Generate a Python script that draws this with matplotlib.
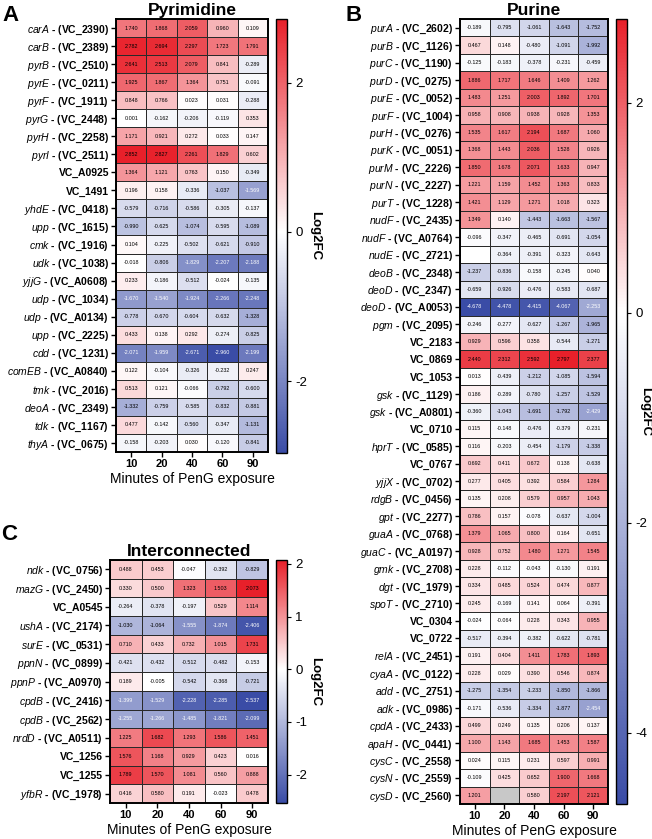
import matplotlib
matplotlib.use("Agg")
import matplotlib.pyplot as plt
import numpy as np
from matplotlib.colors import LinearSegmentedColormap, Normalize, ListedColormap

plt.rcParams['font.family'] = ['Liberation Sans', 'DejaVu Sans']
plt.rcParams['mathtext.fontset'] = 'custom'
plt.rcParams['mathtext.it'] = 'Liberation Sans:italic'
plt.rcParams['mathtext.rm'] = 'Liberation Sans'
plt.rcParams['axes.unicode_minus'] = False

ND = None  # not determined, shown as a blank white cell (grey NaN = missing)
minutes = [10, 20, 40, 60, 90]

# ---- Pyrimidine
genes_A = ["carA", "carB", "pyrB", "pyrE", "pyrF", "pyrG", "pyrH", "pyrI", "", "",
           "yhdE", "upp", "cmk", "udk", "yjjG", "udp", "udp", "upp", "cdd", "comEB",
           "tmk", "deoA", "tdk", "thyA"]
loci_A = ["VC_2390", "VC_2389", "VC_2510", "VC_0211", "VC_1911", "VC_2448", "VC_2258",
          "VC_2511", "VC_A0925", "VC_1491", "VC_0418", "VC_1615", "VC_1916", "VC_1038",
          "VC_A0608", "VC_1034", "VC_A0134", "VC_2225", "VC_1231", "VC_A0840", "VC_2016",
          "VC_2349", "VC_1167", "VC_0675"]
vals_A = [
    [1.740, 1.868, 2.059, 0.960, 0.109],
    [2.782, 2.694, 2.297, 1.723, 1.791],
    [2.641, 2.513, 2.079, 0.841, -0.289],
    [1.925, 1.867, 1.364, 0.751, -0.091],
    [0.848, 0.766, 0.023, 0.031, -0.288],
    [0.001, -0.162, -0.206, -0.119, 0.353],
    [1.171, 0.921, 0.272, 0.033, 0.147],
    [2.852, 2.827, 2.261, 1.829, 0.602],
    [1.364, 1.121, 0.763, 0.150, -0.349],
    [0.196, 0.158, -0.336, -1.037, -1.569],
    [-0.579, -0.716, -0.586, -0.305, -0.137],
    [-0.990, -0.625, -1.074, -0.595, -1.089],
    [0.104, -0.225, -0.502, -0.621, -0.910],
    [-0.018, -0.806, -1.829, -2.207, -2.188],
    [0.233, -0.186, -0.512, -0.024, -0.135],
    [-1.670, -1.540, -1.924, -2.266, -2.248],
    [-0.778, -0.670, -0.604, -0.632, -1.328],
    [0.433, 0.138, 0.292, -0.274, -0.825],
    [-2.071, -1.959, -2.671, -2.960, -2.199],
    [0.122, -0.104, -0.326, -0.232, 0.247],
    [0.513, 0.121, -0.066, -0.792, -0.600],
    [-1.332, -0.759, -0.585, -0.832, -0.881],
    [0.477, -0.142, -0.560, -0.347, -1.131],
    [-0.158, -0.203, 0.030, -0.120, -0.841],
]

# ---- Purine
genes_B = ["purA", "purB", "purC", "purD", "purE", "purF", "purH", "purK", "purM", "purN",
           "purT", "nudF", "nudF", "nudE", "deoB", "deoD", "deoD", "pgm", "", "",
           "", "gsk", "gsk", "", "hprT", "", "yjjX", "rdgB", "gpt", "guaA",
           "guaC", "gmk", "dgt", "spoT", "", "", "relA", "cyaA", "add", "adk",
           "cpdA", "apaH", "cysC", "cysN", "cysD"]
loci_B = ["VC_2602", "VC_1126", "VC_1190", "VC_0275", "VC_0052", "VC_1004", "VC_0276",
          "VC_0051", "VC_2226", "VC_2227", "VC_1228", "VC_2435", "VC_A0764", "VC_2721",
          "VC_2348", "VC_2347", "VC_A0053", "VC_2095", "VC_2183", "VC_0869", "VC_1053",
          "VC_1129", "VC_A0801", "VC_0710", "VC_0585", "VC_0767", "VC_0702", "VC_0456",
          "VC_2277", "VC_0768", "VC_A0197", "VC_2708", "VC_1979", "VC_2710", "VC_0304",
          "VC_0722", "VC_2451", "VC_0122", "VC_2751", "VC_0986", "VC_2433", "VC_0441",
          "VC_2558", "VC_2559", "VC_2560"]
vals_B = [
    [-0.189, -0.795, -1.061, -1.643, -1.752],
    [0.467, 0.148, -0.480, -1.091, -1.992],
    [-0.125, -0.183, -0.378, -0.231, -0.459],
    [1.886, 1.717, 1.646, 1.409, 1.262],
    [1.483, 1.251, 2.003, 1.892, 1.701],
    [0.958, 0.908, 0.938, 0.928, 1.353],
    [1.535, 1.617, 2.194, 1.687, 1.060],
    [1.368, 1.443, 2.036, 1.528, 0.926],
    [1.850, 1.678, 2.071, 1.633, 0.947],
    [1.221, 1.159, 1.452, 1.363, 0.833],
    [1.421, 1.129, 1.271, 1.018, 0.323],
    [1.349, 0.140, -1.443, -1.663, -1.567],
    [-0.096, -0.347, -0.465, -0.691, -1.054],
    [ND, -0.364, -0.391, -0.323, -0.643],
    [-1.237, -0.836, -0.158, -0.245, 0.040],
    [-0.659, -0.926, -0.476, -0.583, -0.687],
    [-4.678, -4.478, -4.415, -4.067, -2.253],
    [-0.246, -0.277, -0.627, -1.267, -1.965],
    [0.929, 0.596, 0.358, -0.544, -1.271],
    [2.440, 2.312, 2.592, 2.797, 2.377],
    [0.013, -0.439, -1.212, -1.085, -1.594],
    [0.186, -0.289, -0.780, -1.257, -1.529],
    [-0.360, -1.043, -1.691, -1.792, -2.429],
    [0.115, -0.148, -0.476, -0.379, -0.231],
    [0.116, -0.203, -0.454, -1.179, -1.338],
    [0.692, 0.411, 0.672, 0.138, -0.638],
    [0.277, 0.405, 0.392, 0.584, 1.284],
    [0.135, 0.208, 0.579, 0.957, 1.043],
    [0.786, 0.157, -0.078, -0.637, -1.004],
    [1.379, 1.065, 0.800, 0.164, -0.651],
    [0.928, 0.752, 1.480, 1.271, 1.545],
    [0.228, -0.112, -0.043, -0.130, 0.191],
    [0.334, 0.485, 0.524, 0.474, 0.877],
    [0.245, -0.169, 0.141, 0.064, -0.391],
    [-0.024, -0.064, 0.228, 0.343, 0.955],
    [-0.517, -0.394, -0.382, -0.622, -0.781],
    [0.191, 0.404, 1.411, 1.783, 1.893],
    [0.228, 0.029, 0.390, 0.546, 0.874],
    [-1.275, -1.354, -1.233, -1.850, -1.866],
    [-0.171, -0.536, -1.334, -1.877, -2.454],
    [0.499, 0.249, 0.135, 0.206, 0.137],
    [1.100, 1.143, 1.685, 1.453, 1.587],
    [0.024, 0.115, 0.231, 0.597, 0.991],
    [-0.109, 0.425, 0.652, 1.900, 1.668],
    [1.201, np.nan, 0.580, 2.197, 2.121],
]

# ---- Interconnected
genes_C = ["ndk", "mazG", "", "ushA", "surE", "ppnN", "ppnP", "cpdB", "cpdB", "nrdD",
           "", "", "yfbR"]
loci_C = ["VC_0756", "VC_2450", "VC_A0545", "VC_2174", "VC_0531", "VC_0899", "VC_A0970",
          "VC_2416", "VC_2562", "VC_A0511", "VC_1256", "VC_1255", "VC_1978"]
vals_C = [
    [0.488, 0.453, -0.047, -0.392, -0.829],
    [0.330, 0.500, 1.323, 1.503, 2.073],
    [-0.264, -0.378, -0.197, 0.529, 1.114],
    [-1.030, -1.064, -1.555, -1.874, -2.406],
    [0.710, 0.433, 0.732, 1.015, 1.731],
    [-0.421, -0.432, -0.512, -0.482, -0.153],
    [0.189, -0.005, -0.542, -0.368, -0.721],
    [-1.399, -1.529, -2.228, -2.285, -2.537],
    [-1.255, -1.266, -1.485, -1.821, -2.099],
    [1.225, 1.682, 1.293, 1.586, 1.451],
    [1.576, 1.168, 0.929, 0.423, 0.016],
    [1.789, 1.570, 1.081, 0.560, 0.888],
    [0.416, 0.580, 0.191, -0.023, 0.478],
]

W, H = 652, 839
BLUE = '#3a4ca6'
RED = '#e8202a'


def rect(x0, y0, x1, y1):
    return [x0 / W, 1 - y1 / H, (x1 - x0) / W, (y1 - y0) / H]


def panel(fig, hm_box, cb_box, genes, loci, rows, title, cticks, label_x):
    blank = np.array([[v is None for v in r] for r in rows])
    data = np.array([[np.nan if v is None else v for v in r] for r in rows], dtype=float)
    vmin, vmax = np.nanmin(data), np.nanmax(data)
    f0 = (0 - vmin) / (vmax - vmin)
    cmap = LinearSegmentedColormap.from_list('bwr_gp', [(0, BLUE), (f0, 'white'), (1, RED)])
    cmap.set_bad('#c8c8c8')
    norm = Normalize(vmin, vmax)

    ax = fig.add_axes(rect(*hm_box))
    n, m = data.shape
    mesh = ax.pcolormesh(np.ma.masked_invalid(data), cmap=cmap, norm=norm,
                         edgecolors='#2a2a2a', linewidth=0.5)
    if blank.any():
        ax.pcolormesh(np.ma.masked_where(~blank, np.ones_like(data)),
                      cmap=ListedColormap(['white']), edgecolors='#2a2a2a', linewidth=0.5)
    for i in range(n):
        for j in range(m):
            v = data[i, j]
            if np.isnan(v):
                continue
            col = 'white' if (v < 0 and v / vmin > 0.46) else 'black'
            ax.text(j + 0.5, i + 0.5, f"{v:.3f}", ha='center', va='center',
                    fontsize=3.9, color=col)
    ax.set_xlim(0, m)
    ax.set_ylim(n, 0)
    ax.set_xticks(np.arange(m) + 0.5)
    ax.set_xticklabels([str(x) for x in minutes], fontweight='bold', fontsize=8)
    labels = [rf"$\it{{{g}}}$ - ({l})" if g else l for g, l in zip(genes, loci)]
    ax.set_yticks(np.arange(n) + 0.5)
    ax.set_yticklabels(labels, fontweight='bold', fontsize=7.5)
    ax.tick_params(axis='both', length=3.5, width=1, pad=1.5)
    for s in ax.spines.values():
        s.set_linewidth(1.4)
    ax.set_xlabel('Minutes of PenG exposure', fontsize=10, labelpad=2)
    ax.set_title(title, fontsize=12.5, fontweight='bold', pad=3)

    cax = fig.add_axes(rect(*cb_box))
    cb = fig.colorbar(mesh, cax=cax, ticks=cticks)
    cb.outline.set_linewidth(1)
    cax.tick_params(labelsize=9.5, length=3, width=0.8, pad=3)
    x0, x1 = cb_box[0], cb_box[2]
    cax.text((label_x - x0) / (x1 - x0), 0.5, 'Log2FC', rotation=270, ha='center',
             va='center', fontweight='bold', fontsize=9.5, transform=cax.transAxes)
    return ax


fig = plt.figure(figsize=(W / 100, H / 100), dpi=100)

panel(fig, (116, 19, 268, 452), (276, 19, 287, 453), genes_A, loci_A, vals_A,
      'Pyrimidine', [-2, 0, 2], 315)
panel(fig, (460, 19, 608, 804), (616, 19, 627, 804), genes_B, loci_B, vals_B,
      'Purine', [-4, -2, 0, 2], 645)
panel(fig, (110, 560, 268, 803), (276, 560, 287, 803), genes_C, loci_C, vals_C,
      'Interconnected', [-2, -1, 0, 1, 2], 315)

fig.text(2 / W, 1 - 5 / H, 'A', fontsize=16, fontweight='bold', va='top')
fig.text(345 / W, 1 - 5 / H, 'B', fontsize=16, fontweight='bold', va='top')
fig.text(1 / W, 1 - 524 / H, 'C', fontsize=16, fontweight='bold', va='top')

fig.savefig('out.png', dpi=100)
